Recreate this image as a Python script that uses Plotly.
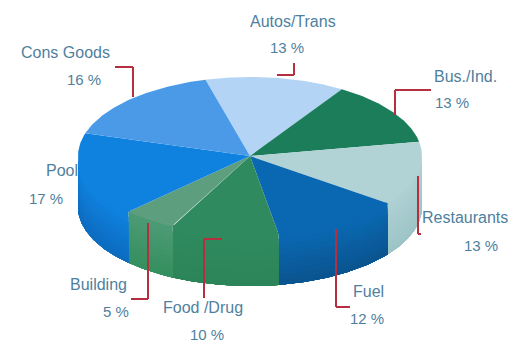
import numpy as np
import plotly.graph_objects as go

# Sector shares, clockwise from the top of the pie
categories = ["Autos/Trans", "Bus./Ind.", "Restaurants", "Fuel", "Food /Drug", "Building", "Pool", "Cons Goods"]
values = [13, 13, 13, 12, 10, 5, 17, 16]

top_colors = ["#b4d4f5", "#1b7d5a", "#b2d3d5", "#0a68b2", "#2f8a5f", "#5c9e7e", "#0f82e0", "#4a9ae8"]
wall_top_colors = ["#b4d4f5", "#1b7d5a", "#aed0d2", "#0a68b2", "#2f8a5f", "#4c9a74", "#0f82e0", "#4a9ae8"]
wall_bottom_colors = ["#b4d4f5", "#1b7d5a", "#9dc5c8", "#0a5590", "#2c8558", "#35905f", "#0c6cc0", "#4a9ae8"]

# Label placement in page pixels: name centre, share centre
name_pos = [(293, 21), (465, 76), (465, 217), (368, 291), (203, 307), (98, 284), (62, 170), (65, 52)]
share_pos = [(287, 47), (452, 102), (481, 245), (367, 318), (207, 334), (116, 311), (46, 198), (84, 79)]

# Elbow leader lines
leaders = [
    [(277, 75), (294, 75), (294, 63)],
    [(431, 90), (395, 90), (395, 115)],
    [(418, 176), (418, 234), (421, 234)],
    [(336, 229), (336, 307), (350, 307)],
    [(222, 239), (204, 239), (204, 298)],
    [(148, 223), (148, 299), (131, 299)],
    [(133, 97), (133, 67), (115, 67)],
]

CX, CY, RX, RY, DEPTH = 250, 156, 172, 79, 51
START_DEG = -15
WALL_BANDS = 10
TEXT = "#4f7f9e"
LEADER = "#b5303f"


def rim(deg, drop=0.0):
    t = np.radians(deg)
    return CX + RX * np.sin(t), CY - RY * np.cos(t) + drop


def mix(a, b, f):
    ca = [int(a[i:i + 2], 16) for i in (1, 3, 5)]
    cb = [int(b[i:i + 2], 16) for i in (1, 3, 5)]
    return "#" + "".join(f"{round(x + (y - x) * f):02x}" for x, y in zip(ca, cb))


def patch(xs, ys, color):
    return go.Scatter(x=xs, y=ys, mode="lines", fill="toself", fillcolor=color,
                      line=dict(width=0), hoverinfo="skip", showlegend=False)


edges = START_DEG + np.cumsum([0] + values) * 360.0 / sum(values)
fig = go.Figure()

# Visible outer wall: only the front half of the cylinder. Each band runs down
# to the base and the next one overpaints it, which keeps the shading seamless.
# The first band starts slightly above the rim so it tucks under the top surface.
for i in range(len(values)):
    a, b = max(edges[i], 90), min(edges[i + 1], 270)
    if a >= b:
        continue
    arc = np.linspace(a, b, 60)
    x_base, y_base = rim(arc[::-1], DEPTH)
    for k in range(WALL_BANDS):
        drop = DEPTH * k / WALL_BANDS if k else -2
        x0, y0 = rim(arc, drop)
        color = mix(wall_top_colors[i], wall_bottom_colors[i], k / (WALL_BANDS - 1))
        fig.add_trace(patch(np.r_[x0, x_base, x0[0]], np.r_[y0, y_base, y0[0]], color))

# Top surface
for i in range(len(values)):
    arc = np.linspace(edges[i], edges[i + 1], 80)
    x, y = rim(arc)
    fig.add_trace(patch(np.r_[CX, x, CX], np.r_[CY, y, CY], top_colors[i]))

shapes = []
for pts in leaders:
    for (x0, y0), (x1, y1) in zip(pts, pts[1:]):
        shapes.append(dict(type="line", xref="x", yref="y", x0=x0, y0=y0, x1=x1, y1=y1,
                           line=dict(color=LEADER, width=2)))

annotations = []
for name, v, np_, sp in zip(categories, values, name_pos, share_pos):
    annotations.append(dict(x=np_[0], y=np_[1], text=name, showarrow=False, xref="x", yref="y",
                            font=dict(size=16)))
    annotations.append(dict(x=sp[0], y=sp[1], text=f"{v} %", showarrow=False, xref="x", yref="y",
                            font=dict(size=15)))

fig.update_layout(
    width=520, height=343, margin=dict(l=0, r=0, t=0, b=0),
    paper_bgcolor="white", plot_bgcolor="white",
    font=dict(family="Liberation Sans", size=15, color=TEXT),
    xaxis=dict(range=[0, 520], visible=False, fixedrange=True),
    yaxis=dict(range=[343, 0], visible=False, fixedrange=True),
    shapes=shapes, annotations=annotations,
)
fig.write_html("out.html", config={"displayModeBar": False})
